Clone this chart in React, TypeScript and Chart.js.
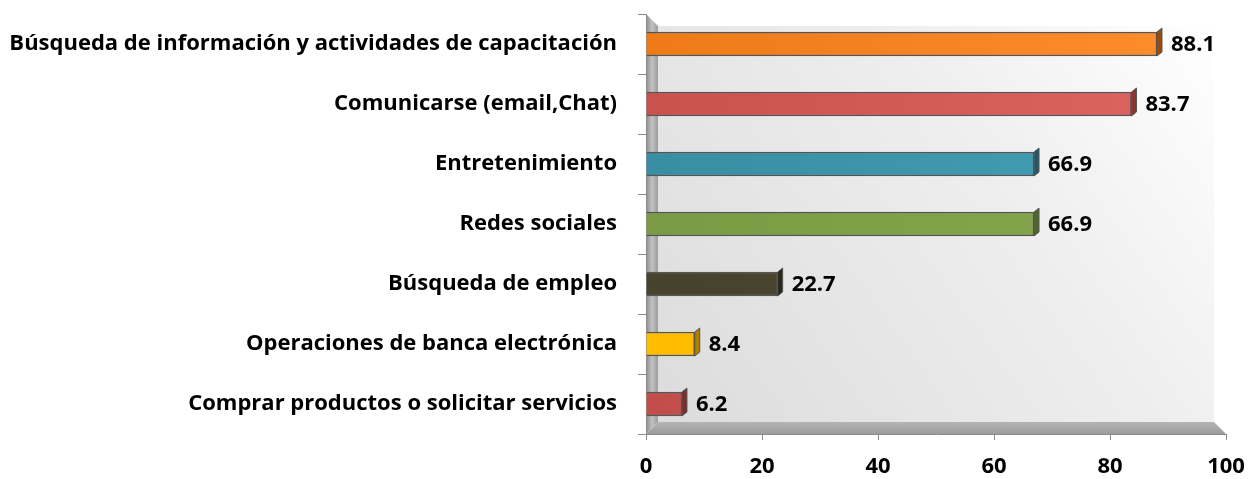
import React, { useEffect, useRef } from "react";
import { Chart, registerables } from "chart.js";
Chart.register(...registerables);

const categories = [
  "Búsqueda de información y actividades de capacitación",
  "Comunicarse (email,Chat)",
  "Entretenimiento",
  "Redes sociales",
  "Búsqueda de empleo",
  "Operaciones de banca electrónica",
  "Comprar productos o solicitar servicios",
];
const values = [88.1, 83.7, 66.9, 66.9, 22.7, 8.4, 6.2];
const barColorsDark = ["#EE7A18", "#C9514E", "#388EA3", "#7A9A43", "#47422D", "#FFBD00", "#C24E4B"];
const barColorsLight = ["#FF8E2C", "#DD6663", "#44A0B6", "#88A850", "#4E4933", "#FFC20A", "#CC5855"];
const sideColors = ["#9A4A0C", "#8E3532", "#22596A", "#4E6628", "#2A2718", "#B07E00", "#7D2C2A"];
const xMin = 0;
const xMax = 100;
const xStep = 20;

const FONT = "'Open Sans', sans-serif";

const wallsPlugin = {
  id: "walls3d",
  beforeDatasetsDraw(chart: any) {
    const { ctx, chartArea } = chart;
    const { left, right, top, bottom } = chartArea;
    const d = 12;
    ctx.save();
    const g = ctx.createLinearGradient(left + d, bottom - d, right - d, top + d);
    g.addColorStop(0, "#dcdcdc");
    g.addColorStop(0.6, "#eeeeee");
    g.addColorStop(1, "#ffffff");
    ctx.fillStyle = g;
    ctx.fillRect(left + d, top + d, right - left - 2 * d, bottom - top - 2 * d);
    const fg = ctx.createLinearGradient(0, bottom - d, 0, bottom);
    fg.addColorStop(0, "#b4b4b4");
    fg.addColorStop(1, "#9c9c9c");
    ctx.fillStyle = fg;
    ctx.beginPath();
    ctx.moveTo(left, bottom);
    ctx.lineTo(left + d, bottom - d);
    ctx.lineTo(right - d, bottom - d);
    ctx.lineTo(right, bottom);
    ctx.closePath();
    ctx.fill();
    const lg = ctx.createLinearGradient(left, 0, left + d, 0);
    lg.addColorStop(0, "#8a8a8a");
    lg.addColorStop(0.5, "#c2c2c2");
    lg.addColorStop(1, "#9c9c9c");
    ctx.fillStyle = lg;
    ctx.beginPath();
    ctx.moveTo(left, top);
    ctx.lineTo(left + d, top + d);
    ctx.lineTo(left + d, bottom - d);
    ctx.lineTo(left, bottom);
    ctx.closePath();
    ctx.fill();
    ctx.restore();
  },
  afterDatasetsDraw(chart: any) {
    const { ctx } = chart;
    const meta = chart.getDatasetMeta(0);
    ctx.save();
    meta.data.forEach((bar: any, i: number) => {
      const { x, y, height } = bar.getProps(["x", "y", "height"], true);
      const t = y - height / 2;
      const b = y + height / 2;
      const dx = 5;
      const dy = 4;
      ctx.fillStyle = sideColors[i];
      ctx.strokeStyle = "#555555";
      ctx.lineWidth = 1;
      ctx.beginPath();
      ctx.moveTo(x, t);
      ctx.lineTo(x + dx, t - dy);
      ctx.lineTo(x + dx, b - dy);
      ctx.lineTo(x, b);
      ctx.closePath();
      ctx.fill();
      ctx.stroke();
      ctx.fillStyle = "#000000";
      ctx.font = `bold 22px ${FONT}`;
      ctx.textAlign = "left";
      ctx.textBaseline = "middle";
      ctx.fillText(String(values[i]), x + 14, y + 1);
    });
    ctx.restore();
  },
};

export default function App() {
  const ref = useRef<HTMLCanvasElement>(null);
  useEffect(() => {
    if (!ref.current) return;
    const chart = new Chart(ref.current, {
      type: "bar",
      data: {
        labels: categories,
        datasets: [
          {
            data: values,
            backgroundColor: (c: any) => {
              const area = c.chart.chartArea;
              const i = c.dataIndex;
              if (!area || i === undefined) return barColorsDark[i || 0];
              const gr = c.chart.ctx.createLinearGradient(area.left, 0, area.right, 0);
              gr.addColorStop(0, barColorsDark[i]);
              gr.addColorStop(1, barColorsLight[i]);
              return gr;
            },
            borderColor: "#555555",
            borderWidth: 1.5,
            barThickness: 24,
          },
        ],
      },
      options: {
        indexAxis: "y",
        responsive: false,
        animation: false,
        layout: { padding: { top: 14, right: 23, bottom: 0, left: 0 } },
        plugins: { legend: { display: false }, tooltip: { enabled: false } },
        scales: {
          x: {
            min: xMin,
            max: xMax,
            ticks: {
              stepSize: xStep,
              color: "#000000",
              font: { family: FONT, size: 22, weight: "bold" },
              padding: 14,
            },
            grid: { drawOnChartArea: false, tickLength: 6, color: "#8a8a8a" },
            border: { color: "#8a8a8a" },
            afterFit: (s: any) => {
              s.height = 45;
              s.paddingLeft = 0;
              s.paddingRight = 0;
            },
          },
          y: {
            ticks: {
              color: "#000000",
              font: { family: FONT, size: 22, weight: "bold" },
              padding: 21,
            },
            grid: { drawOnChartArea: false, tickLength: 8, color: "#8a8a8a", offset: true },
            border: { color: "#8a8a8a" },
            afterFit: (s: any) => {
              s.width = 646;
              s.paddingTop = 0;
              s.paddingBottom = 0;
            },
          },
        },
      },
      plugins: [wallsPlugin],
    });
    return () => chart.destroy();
  }, []);
  return (
    <div style={{ position: "fixed", left: 0, top: 0, width: 1249, height: 479, background: "#fff" }}>
      <canvas ref={ref} width={1249} height={479} />
    </div>
  );
}
